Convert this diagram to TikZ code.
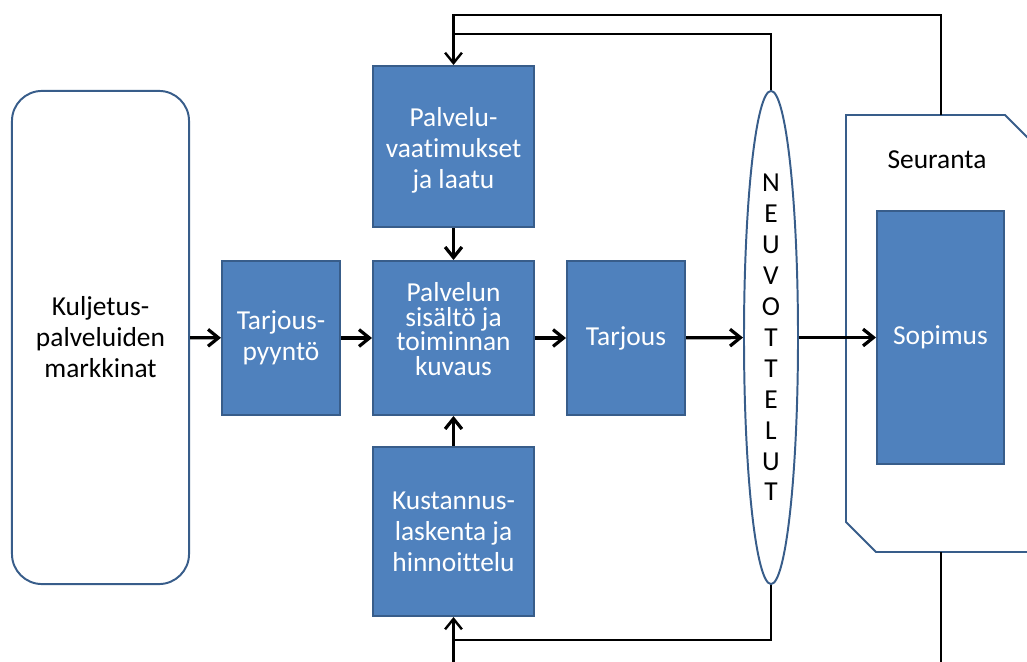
\documentclass[tikz,border=0pt]{standalone}
\usepackage{fontspec}
\setmainfont{Carlito}[Ligatures=NoCommon]
\usetikzlibrary{arrows.meta,shapes.geometric,positioning}
\definecolor{boxblue}{HTML}{4F81BD}
\definecolor{boxedge}{HTML}{385D8A}

\begin{document}
\begin{tikzpicture}[x=0.025cm,y=-0.025cm,
			blk/.style={rectangle,draw=boxedge,fill=boxblue,line width=1.4pt,text=white,align=center,inner sep=0pt},
			outl/.style={draw=boxedge,line width=1.4pt,align=center,inner sep=0pt},
			flow/.style={line width=2.3pt,-{Straight Barb[length=2.6mm,width=4.2mm,line width=2.3pt]}},
			back/.style={line width=1.7pt},
			font=\fontsize{19.5}{22}\selectfont]
		\useasboundingbox (0,0) rectangle (1027,662);
		\clip (0,0) rectangle (1027,662);
		% seuranta frame
		\draw [outl] (846,115) -- (1005,115) -- (1045,155) -- (1045,552) -- (876,552) -- (846,522) -- cycle;
		\coordinate (seurtop) at (941,115);
		\coordinate (seurbot) at (941,552);
		\coordinate (jtop) at (453.5,34);
		\coordinate (jbot) at (453.5,640);
		\coordinate (offl) at (453.5,690);
		\coordinate (offr) at (941,690);
		\path 	(100.5,337.5) node (mkt) [outl, rounded corners=0.75cm, minimum width=4.425cm, minimum height=12.325cm] {Kuljetus-\\palveluiden\\markkinat}
		        (281,338) node (tpy) [blk, minimum width=2.95cm, minimum height=3.85cm] {Tarjous-\\pyyntö}
		        (453.5,146.5) node (req) [blk, minimum width=4.025cm, minimum height=4.025cm] {}
		        (453.5,150) node (reqtxt) [text=white, align=center, inner sep=0pt] {Palvelu-\\vaatimukset\\ja laatu}
		        (453.5,338) node (desc) [blk, minimum width=4.025cm, minimum height=3.85cm] {}
		        (453.5,329) node (desctxt) [text=white, align=center, inner sep=0pt, font=\fontsize{19.5}{17.5}\selectfont] {Palvelun\\sisältö ja\\toiminnan\\kuvaus}
		        (453.5,531.5) node (cost) [blk, minimum width=4.025cm, minimum height=4.225cm] {Kustannus-\\laskenta ja\\hinnoittelu}
		        (626,338) node (offer) [blk, minimum width=2.95cm, minimum height=3.85cm] {Tarjous}
		        (771,337.5) node (neuv) [outl, ellipse, minimum width=1.35cm, minimum height=12.325cm] {N\\E\\U\\V\\O\\T\\T\\E\\L\\U\\T}
		        (937,160) node (seur) {Seuranta}
		        (940.5,337.5) node (sop) [blk, minimum width=3.175cm, minimum height=6.325cm] {Sopimus};
		\draw [flow] (mkt) -- (tpy);
		\draw [flow] (tpy) -- (desc);
		\draw [flow] (desc) -- (offer);
		\draw [flow] (offer) -- (neuv);
		\draw [flow] (neuv) -- (sop);
		\draw [flow] (req) -- (desc);
		\draw [flow] (cost) -- (desc);
		% palautteet
		\draw [back,-{Straight Barb[length=2.6mm,width=4.2mm,line width=1.7pt]}] (seurtop) -- ++(0,-100) -| (req.north);
		\draw [back] (neuv.north) |- (jtop);
		\draw [back] (neuv.south) |- (jbot);
		\draw [back] (seurbot) -- (offr);
		\draw [back,-{Straight Barb[length=2.6mm,width=4.2mm,line width=1.7pt]}] (offl) -- (cost.south);
	\end{tikzpicture}
\end{document}
